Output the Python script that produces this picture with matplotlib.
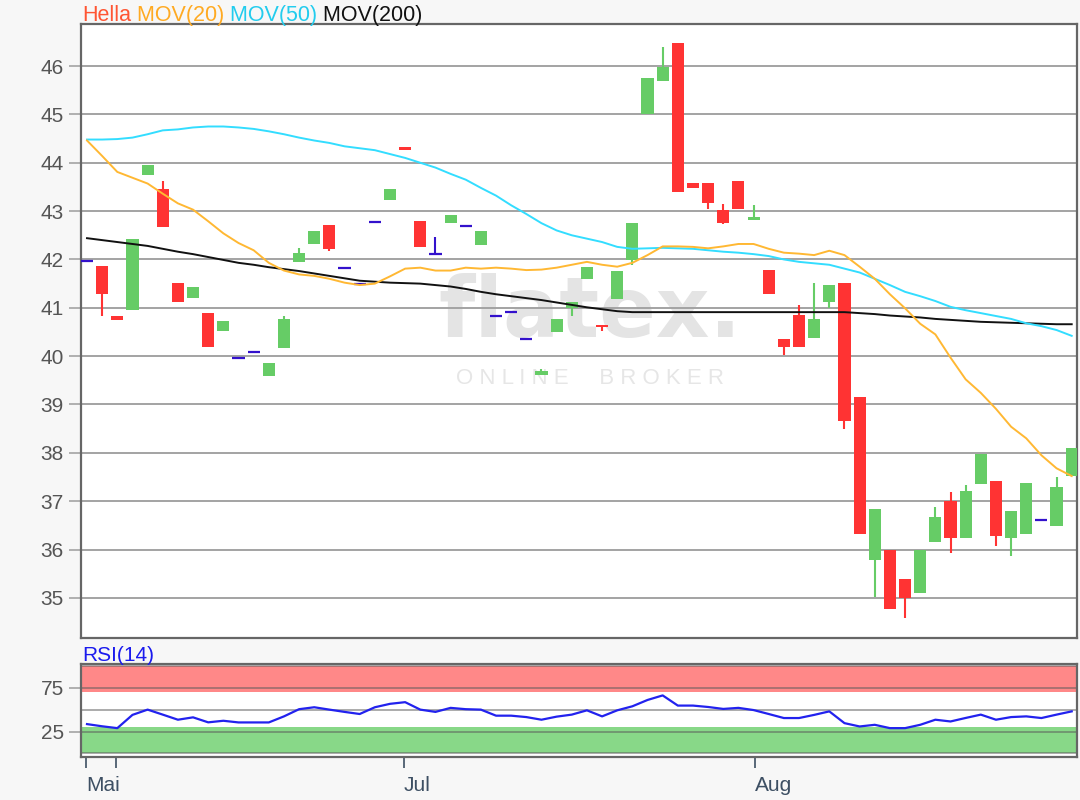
import matplotlib
matplotlib.use("Agg")
import matplotlib.pyplot as plt
import numpy as np

plt.rcParams['font.family'] = ['Liberation Sans', 'DejaVu Sans']

# ---------------- data ----------------
opens = [41.96, 41.87, 40.84, 40.95, 43.75, 43.46, 41.51, 41.20, 40.89, 40.53,
         39.97, 40.09, 39.58, 40.16, 41.94, 42.31, 42.71, 41.83, 41.50, 42.78,
         43.22, 44.33, 42.79, 42.12, 42.76, 42.70, 42.30, 40.84, 40.92, 40.35,
         39.62, 40.49, 40.99, 41.60, 40.64, 41.19, 41.99, 45.01, 45.69, 46.47,
         43.58, 43.58, 43.03, 43.62, 42.82, 41.79, 40.35, 40.85, 40.37, 41.11,
         41.52, 39.15, 35.78, 36.00, 35.40, 35.11, 36.16, 37.00, 36.24, 37.36,
         37.42, 36.24, 36.32, 36.62, 36.48, 37.52]
closes = [41.96, 41.28, 40.75, 42.42, 43.95, 42.68, 41.11, 41.42, 40.19, 40.72,
          39.97, 40.09, 39.86, 40.77, 42.14, 42.58, 42.22, 41.83, 41.50, 42.78,
          43.46, 44.26, 42.26, 42.12, 42.91, 42.70, 42.58, 40.84, 40.92, 40.35,
          39.70, 40.76, 41.11, 41.85, 40.60, 41.76, 42.75, 45.76, 45.98, 43.39,
          43.47, 43.17, 42.76, 43.05, 42.87, 41.28, 40.19, 40.19, 40.76, 41.47,
          38.66, 36.32, 36.84, 34.78, 34.99, 36.00, 36.68, 36.24, 37.21, 37.97,
          36.29, 36.80, 37.38, 36.62, 37.29, 38.09]
highs = [41.96, 41.87, 40.84, 42.42, 43.95, 43.62, 41.51, 41.42, 40.89, 40.72,
         39.97, 40.09, 39.86, 40.83, 42.24, 42.58, 42.71, 41.83, 41.50, 42.78,
         43.46, 44.33, 42.79, 42.46, 42.91, 42.70, 42.58, 40.84, 40.92, 40.35,
         39.74, 40.76, 41.11, 41.85, 40.64, 41.76, 42.75, 45.76, 46.40, 46.47,
         43.58, 43.58, 43.14, 43.62, 43.12, 41.79, 40.35, 41.06, 41.52, 41.47,
         41.52, 39.15, 36.84, 36.00, 35.40, 36.00, 36.88, 37.18, 37.33, 37.97,
         37.42, 36.80, 37.38, 36.62, 37.50, 38.09]
lows = [41.96, 40.83, 40.75, 40.95, 43.75, 42.68, 41.11, 41.20, 40.19, 40.53,
        39.97, 40.09, 39.58, 40.16, 41.94, 42.31, 42.18, 41.83, 41.50, 42.78,
        43.22, 44.26, 42.26, 42.12, 42.76, 42.70, 42.30, 40.84, 40.92, 40.35,
        39.62, 40.49, 40.83, 41.60, 40.53, 41.19, 41.89, 45.01, 45.69, 43.39,
        43.47, 43.05, 42.73, 43.05, 42.82, 41.28, 40.03, 40.19, 40.37, 41.00,
        38.50, 36.32, 35.01, 34.78, 34.58, 35.11, 36.16, 35.93, 36.24, 37.36,
        36.07, 35.86, 36.32, 36.62, 36.48, 37.52]

mov20 = [44.46, 44.14, 43.81, 43.69, 43.57, 43.36, 43.16, 43.03, 42.79, 42.54,
         42.34, 42.19, 41.93, 41.77, 41.69, 41.66, 41.60, 41.52, 41.47, 41.50,
         41.65, 41.81, 41.83, 41.77, 41.77, 41.83, 41.81, 41.83, 41.81, 41.78,
         41.79, 41.83, 41.89, 41.95, 41.89, 41.85, 41.93, 42.09, 42.27, 42.27,
         42.26, 42.23, 42.27, 42.32, 42.32, 42.22, 42.14, 42.12, 42.09, 42.18,
         42.09, 41.85, 41.60, 41.28, 40.99, 40.67, 40.45, 39.97, 39.52, 39.24,
         38.91, 38.54, 38.30, 37.95, 37.68, 37.52]
mov50 = [44.48, 44.48, 44.49, 44.52, 44.59, 44.67, 44.69, 44.73, 44.75, 44.75,
         44.73, 44.70, 44.65, 44.59, 44.52, 44.46, 44.41, 44.34, 44.30, 44.26,
         44.18, 44.10, 44.00, 43.90, 43.77, 43.65, 43.48, 43.32, 43.12, 42.94,
         42.75, 42.60, 42.50, 42.43, 42.36, 42.26, 42.22, 42.23, 42.24, 42.23,
         42.22, 42.19, 42.16, 42.14, 42.11, 42.07, 42.00, 41.95, 41.92, 41.89,
         41.81, 41.73, 41.60, 41.47, 41.33, 41.24, 41.14, 41.02, 40.95, 40.89,
         40.83, 40.77, 40.68, 40.62, 40.54, 40.42]
mov200 = [42.44, 42.40, 42.36, 42.32, 42.28, 42.22, 42.16, 42.11, 42.05, 41.99,
          41.93, 41.89, 41.84, 41.80, 41.76, 41.71, 41.66, 41.61, 41.56, 41.54,
          41.52, 41.51, 41.50, 41.47, 41.44, 41.39, 41.33, 41.28, 41.24, 41.20,
          41.16, 41.11, 41.06, 41.01, 40.97, 40.93, 40.91, 40.91, 40.91, 40.91,
          40.91, 40.91, 40.91, 40.91, 40.91, 40.91, 40.91, 40.91, 40.91, 40.91,
          40.91, 40.89, 40.87, 40.84, 40.82, 40.80, 40.77, 40.75, 40.73, 40.71,
          40.70, 40.69, 40.68, 40.67, 40.66, 40.66]
rsi = [33.5, 31.0, 28.9, 44.0, 50.0, 44.3, 38.5, 41.2, 35.5, 37.3,
       35.4, 35.4, 35.4, 42.3, 50.5, 52.7, 50.0, 47.4, 45.0, 52.7,
       56.6, 58.5, 50.0, 47.4, 52.0, 50.5, 50.0, 43.1, 43.1, 41.5,
       38.5, 42.0, 44.3, 49.2, 42.3, 49.2, 53.8, 61.0, 66.2, 54.6,
       54.6, 53.0, 50.8, 52.0, 49.5, 45.0, 40.4, 40.4, 44.0, 48.0,
       34.6, 30.8, 32.7, 28.9, 28.9, 32.7, 38.5, 36.5, 40.5, 44.3,
       38.5, 41.5, 42.3, 40.4, 44.3, 48.0]

price_ticks = [35, 36, 37, 38, 39, 40, 41, 42, 43, 44, 45, 46]
rsi_ticks = [25, 75]
date_tick_pos = [-0.07, 1.91, 20.92, 44.09]
date_tick_labels = ["Mai", "", "Jul", "Aug"]
title_parts = ["Hella", " MOV(20)", " MOV(50)", " MOV(200)"]

# ---------------- styling ----------------
C_UP = '#66cc66'
C_DOWN = '#ff3333'
C_DOJI = '#3311cc'
C_M20 = '#ffb833'
C_M50 = '#33ddff'
C_M200 = '#111111'
title_colors = ['#ff5533', '#ffaa22', '#22ccee', '#111111']
BG = '#f7f7f7'
GRID = '#a3a3a3'
SPINE = '#666666'
TXT = '#555555'
XTXT = '#3d4f63'

W, H = 1080, 800
fig = plt.figure(figsize=(W / 100, H / 100), dpi=100, facecolor=BG)
L, R = 80.5, 1077
ax = fig.add_axes([L / W, 1 - 638 / H, (R - L) / W, (638 - 24) / H])
ax2 = fig.add_axes([L / W, 1 - 757 / H, (R - L) / W, (757 - 664) / H], sharex=ax)

x = np.arange(len(opens))
o = np.array(opens); c = np.array(closes)
hi = np.array(highs); lo = np.array(lows)

up = c > o
down = c < o
doji = c == o

# wicks
wick_cols = np.where(up, C_UP, np.where(down, C_DOWN, C_DOJI))
ax.vlines(x, lo, hi, colors=wick_cols, lw=1.5, zorder=3)
# bodies
bw = 0.8
ax.bar(x[up], (c - o)[up], bottom=o[up], width=bw, color=C_UP, zorder=4, linewidth=0)
ax.bar(x[down], (o - c)[down], bottom=c[down], width=bw, color=C_DOWN, zorder=4, linewidth=0)
ax.hlines(c[doji], x[doji] - bw / 2, x[doji] + bw / 2, colors=C_DOJI, lw=1.6, zorder=4)

# moving averages
ax.plot(x, mov200, color=C_M200, lw=1.4, zorder=5)
ax.plot(x, mov50, color=C_M50, lw=1.4, zorder=5)
ax.plot(x, mov20, color=C_M20, lw=1.4, zorder=5)

ax.set_xlim(-0.43, 65.35)
ax.set_ylim(34.17, 46.87)
ax.set_yticks(price_ticks)
ax.set_yticklabels([str(t) for t in price_ticks])
ax.set_facecolor('white')
ax.grid(axis='y', color=GRID, lw=1.4)
ax.set_axisbelow(True)
ax.tick_params(axis='x', bottom=False, labelbottom=False)
ax.tick_params(axis='y', colors=GRID, labelcolor=TXT, labelsize=15, length=9, width=1.2, pad=3)
for s in ax.spines.values():
    s.set_color(SPINE)
    s.set_linewidth(1.6)

# watermark
ax.text(0.511, 0.528, 'flatex.', transform=ax.transAxes, fontsize=60, fontweight='bold',
        family='DejaVu Sans', color='#e4e4e4', ha='center', va='center', zorder=0.3)
ax.text(0.511, 0.423, 'O N L I N E     B R O K E R', transform=ax.transAxes, fontsize=16,
        color='#e6e6e6', ha='center', va='center', zorder=0.3)

# title pieces
t = fig.text(82 / W, 1 - 21 / H, title_parts[0], color=title_colors[0], fontsize=15.5,
             ha='left', va='baseline')
for part, col in zip(title_parts[1:], title_colors[1:]):
    t = ax.annotate(part, xy=(1, 0), xycoords=t, color=col, fontsize=15.5,
                    ha='left', va='bottom')

# ---------------- RSI panel ----------------
ax2.set_facecolor('white')
ax2.axhspan(70, 100, color='#ff8888', lw=0, zorder=0.5)
ax2.axhspan(0, 30, color='#88d888', lw=0, zorder=0.5)
for lvl in [0, 25, 50, 75, 100]:
    ax2.axhline(lvl, color=(0.35, 0.35, 0.35), alpha=0.5, lw=1.4, zorder=0.8)
ax2.plot(x, rsi, color='#2222ee', lw=1.6, zorder=3)
ax2.set_ylim(-4, 102)
ax2.set_yticks(rsi_ticks)
ax2.set_yticklabels([str(t) for t in rsi_ticks])
ax2.tick_params(axis='y', colors=GRID, labelcolor=TXT, labelsize=15, length=9, width=1.2, pad=3)
ax2.set_xticks(date_tick_pos)
ax2.set_xticklabels(date_tick_labels)
ax2.tick_params(axis='x', colors=XTXT, labelcolor=XTXT, labelsize=15, length=8, width=1.2, pad=6)
for lab in ax2.get_xticklabels():
    lab.set_ha('left')
for s in ax2.spines.values():
    s.set_color(SPINE)
    s.set_linewidth(1.6)
fig.text(82 / W, 1 - 661 / H, 'RSI(14)', color='#1a1aee', fontsize=15, ha='left', va='baseline')

fig.savefig('out.png', dpi=100, facecolor=BG)
